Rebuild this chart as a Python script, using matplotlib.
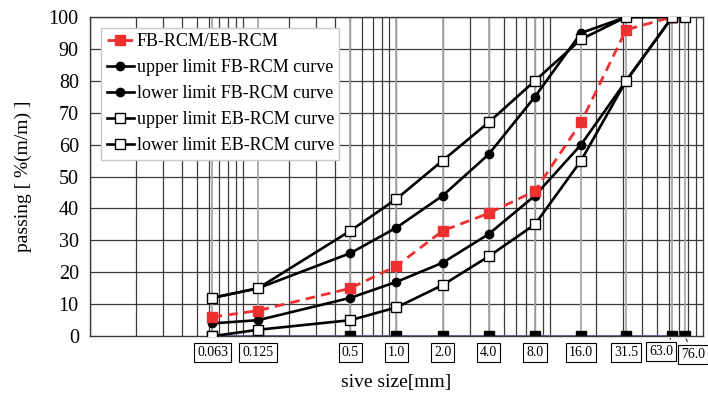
import numpy as np
import matplotlib.pyplot as plt

plt.rcParams['font.family'] = ['Liberation Serif', 'DejaVu Serif']

# sieve sizes [mm]
sieve = [0.063, 0.125, 0.5, 1.0, 2.0, 4.0, 8.0, 16.0, 31.5, 63.0, 76.0]
sieve_labels = ['0.063', '0.125', '0.5', '1.0', '2.0', '4.0', '8.0',
                '16.0', '31.5', '63.0', '76.0']

# passing [%]
mix = [6, 8, 15, 22, 33, 38.5, 45.5, 67, 96, 100]
upper_fb = [12, 15, 26, 34, 44, 57, 75, 95, 100, 100]
lower_fb = [4, 5, 12, 17, 23, 32, 44, 60, 80, 100]
upper_eb = [12, 15, 33, 43, 55, 67, 80, 93, 100, 100, 100]
lower_eb = [0, 2, 5, 9, 16, 25, 35, 55, 80, 100]
base = [0] * len(sieve)

fig = plt.figure(figsize=(7.08, 3.95), dpi=100)
ax = fig.add_axes([0.127, 0.149, 0.866, 0.808])

ax.set_xscale('log')
ax.set_xlim(0.01, 100)
ax.set_ylim(0, 100)

# log paper grid
for dec in [0.01, 0.1, 1, 10]:
    for k in range(1, 10):
        ax.axvline(dec * k, color='#3a3a3a', lw=0.9, zorder=0)
for yv in range(10, 101, 10):
    ax.axhline(yv, color='#3a3a3a', lw=0.9, zorder=0)
# lines at the sieve sizes
for s in sieve:
    ax.axvline(s, color='#a8a8a8', lw=1.3, zorder=0.5)

ax.plot(sieve, base, color='#6a5a9e', lw=1.3, marker='s', ms=6.5,
        mfc='black', mec='black', zorder=2, label='_nolegend_')

ax.plot(sieve[:len(mix)], mix, color='#ee3030', ls=(0, (3.5, 2.2)), lw=2.0,
        marker='s', ms=6.5, mfc='#ee3030', mec='#ee3030', zorder=4,
        label='FB-RCM/EB-RCM')
ax.plot(sieve[:len(upper_fb)], upper_fb, color='black', lw=1.9, marker='o',
        ms=6, zorder=3, label='upper limit FB-RCM curve')
ax.plot(sieve[:len(lower_fb)], lower_fb, color='black', lw=1.9, marker='o',
        ms=6, zorder=3, label='lower limit FB-RCM curve')
ax.plot(sieve[:len(upper_eb)], upper_eb, color='black', lw=1.9, marker='s',
        ms=7, mfc='white', mec='black', mew=1, zorder=5,
        label='upper limit EB-RCM curve')
ax.plot(sieve[:len(lower_eb)], lower_eb, color='black', lw=1.9, marker='s',
        ms=7, mfc='white', mec='black', mew=1, zorder=5,
        label='lower limit EB-RCM curve')

for sp in ax.spines.values():
    sp.set_color('#3a3a3a')
    sp.set_linewidth(1.0)

ax.set_xticks([])
ax.minorticks_off()
ax.set_yticks(range(0, 101, 10))
ax.tick_params(axis='y', length=0, labelsize=14.5, pad=8)

# boxed sieve labels under the axis
box = dict(boxstyle='square,pad=0.22', fc='white', ec='black', lw=0.8)
offsets = {'63.0': (-8, -11), '76.0': (6, -13)}
for s, lab in zip(sieve, sieve_labels):
    dx, dy = offsets.get(lab, (0, -12))
    arrow = dict(arrowstyle='-', color='black', lw=0.7) if lab in offsets else None
    ax.annotate(lab, xy=(s, 0), xytext=(dx, dy), textcoords='offset points',
                ha='center', va='center', fontsize=10, bbox=box,
                arrowprops=arrow, annotation_clip=False)

ax.set_ylabel('passing [ %(m/m) ]', fontsize=14, labelpad=12)
ax.set_xlabel('sive size[mm]', fontsize=14, labelpad=27)

leg = ax.legend(loc='upper left', fontsize=13, handlelength=1.5,
                handletextpad=0.15, borderpad=0.3, labelspacing=0.5,
                fancybox=False, framealpha=1, edgecolor='#c8c8c8',
                bbox_to_anchor=(0.004, 0.995))
leg.set_zorder(10)

fig.savefig('out.png', dpi=100)
